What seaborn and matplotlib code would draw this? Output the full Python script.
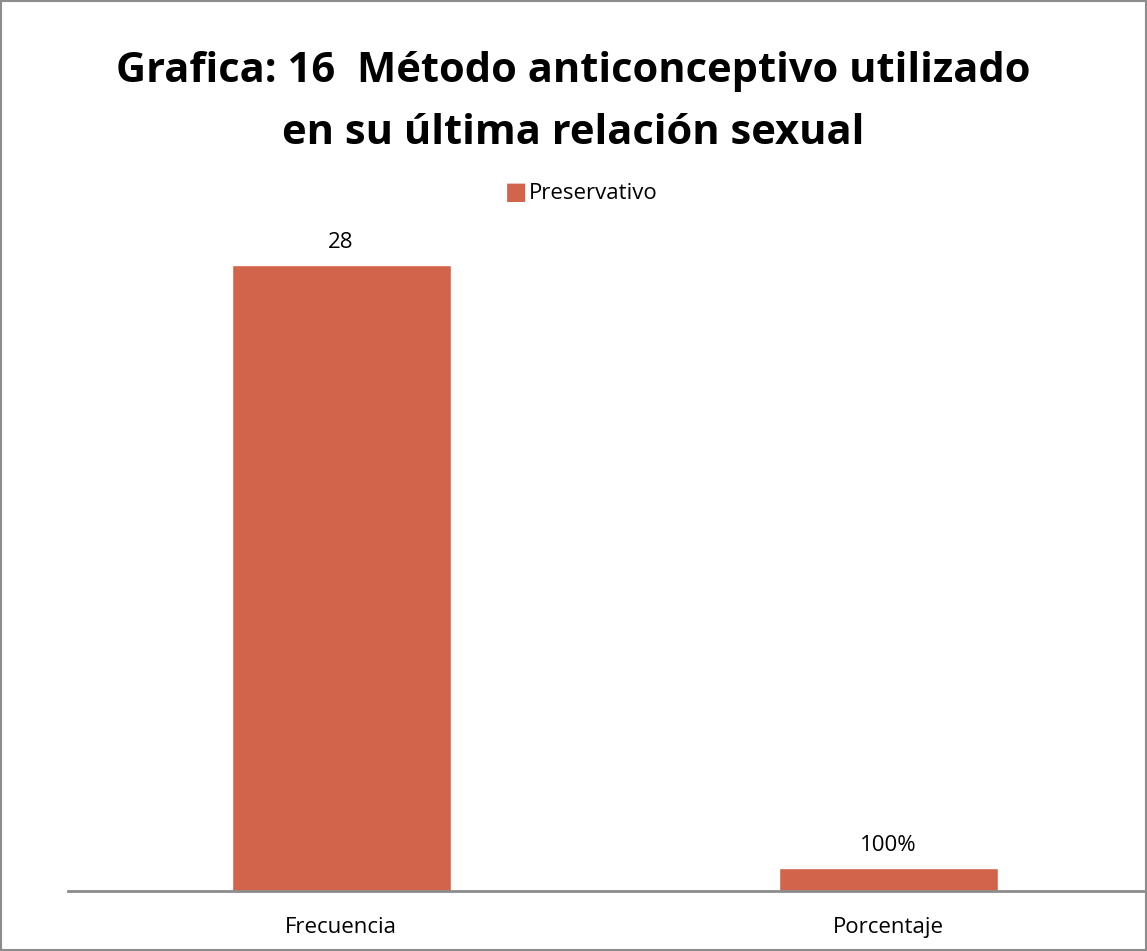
import matplotlib
matplotlib.use("Agg")
import matplotlib.pyplot as plt
import seaborn as sns
import pandas as pd

categorias = ["Frecuencia", "Porcentaje"]
valores = [28, 1]
etiquetas = ["28", "100%"]
serie = "Preservativo"

df = pd.DataFrame({"categoria": categorias, "valor": valores, "serie": serie})

sns.set_theme(style="white")
plt.rcParams["font.family"] = ["Open Sans", "DejaVu Sans"]
plt.rcParams["text.color"] = "black"
plt.rcParams["xtick.color"] = "black"

fig = plt.figure(figsize=(11.47, 9.51), dpi=100)
ax = fig.add_axes([0.0589, 0.0636, 0.954, 0.7045])

sns.barplot(data=df, x="categoria", y="valor", hue="serie", palette=["#D2644B"],
            saturation=1, width=0.4, ax=ax, legend=False)
ax.set_ylim(0, 30)
ax.set_xlabel("")
ax.set_ylabel("")
ax.set_yticks([])
for s in ["top", "right", "left"]:
    ax.spines[s].set_visible(False)
ax.spines["bottom"].set_color("#8C8C8C")
ax.spines["bottom"].set_linewidth(2)
ax.tick_params(axis="x", length=0, labelsize=16, pad=19)

for bar, txt in zip(ax.patches, etiquetas):
    ax.annotate(txt, (bar.get_x() + bar.get_width() / 2, bar.get_height()),
                xytext=(0, 9), textcoords="offset points", ha="center",
                va="bottom", fontsize=16)

# leyenda
fig.text(0.4495, 0.7966, "\u25A0", color="#D2644B", fontsize=17, ha="center", va="center")
fig.text(0.4615, 0.7966, serie, fontsize=16, ha="left", va="center")

fig.suptitle("Grafica: 16  Método anticonceptivo utilizado\nen su última relación sexual",
             x=0.5, y=0.946, fontsize=30, fontweight="bold", linespacing=1.68)

fig.patches.append(plt.Rectangle((0.0009, 0.001), 0.9982, 0.998, transform=fig.transFigure,
                                 fill=False, edgecolor="#8C8C8C", linewidth=1.5))

fig.savefig("out.png", dpi=100)
